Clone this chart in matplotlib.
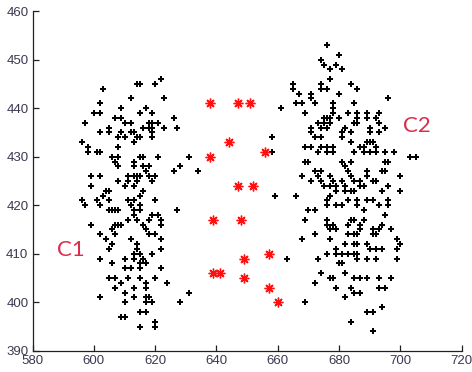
import matplotlib
matplotlib.use("Agg")
import matplotlib.pyplot as plt

# ---- data ----
c1_points = [
    (622,446),(614,445),(615,445),(620,445),(603,444),(612,442),(623,442),(602,441),
    (609,440),(617,440),(600,439),(602,439),(615,439),(619,439),(607,438),(609,438),
    (626,438),(597,437),(610,437),(612,437),(618,437),(619,437),(621,437),(605,436),
    (616,436),(618,436),(619,436),(623,436),(627,436),(602,435),(605,435),(609,435),
    (612,435),(613,435),(619,435),(608,434),(610,434),(614,434),(615,434),(619,434),
    (596,433),(613,433),(598,432),(608,432),(598,431),(601,431),(602,431),(606,430),
    (608,430),(615,430),(616,430),(621,430),(631,430),
    (607,429),(613,429),
    (608,428),(613,428),(616,428),(618,428),(628,428),
    (617,427),(626,427),(634,427),
    (599,426),(602,426),(611,426),(613,426),(614,426),(615,426),(618,426),(620,426),
    (608,425),(611,425),(614,425),(619,425),
    (599,424),(610,424),(613,424),
    (604,423),(605,423),(616,423),
    (603,422),(615,422),
    (596,421),(601,421),(605,421),(611,421),(613,421),(620,421),
    (597,420),(602,420),(612,420),(615,420),
    (605,419),(606,419),(607,419),(608,419),(613,419),(615,419),(627,419),
    (613,418),(619,418),(621,418),
    (611,417),(614,417),(618,417),(622,417),
    (599,416),(607,416),(608,416),(609,416),(616,416),(622,416),
    (606,415),(617,415),
    (602,414),(607,414),(618,414),(620,414),
    (604,413),(612,413),(622,413),
    (606,412),(614,412),
    (605,411),(614,411),(622,411),
    (613,410),(615,410),(619,410),
    (602,409),(610,409),(613,409),(616,409),
    (606,408),(615,408),(617,408),
    (610,407),(612,407),(615,407),(622,407),
    (605,405),(607,405),(611,405),(615,405),(620,405),
    (609,404),(617,404),(624,404),
    (607,403),(613,403),(617,403),
    (610,402),(631,402),
    (602,401),(613,401),(617,401),(618,401),
    (610,400),(617,400),(619,400),(628,400),
    (615,398),(617,398),
    (609,397),(610,397),
    (620,396),
    (615,395),(620,395),
]

c2_points = [
    (676,453),(680,451),(674,450),(675,449),(679,449),(677,448),(681,448),(677,446),
    (665,445),(674,445),(684,445),(665,444),(674,444),(676,444),(686,444),
    (667,443),(671,443),(680,443),(671,442),(696,442),
    (666,441),(668,441),(672,441),(678,441),(685,441),
    (661,440),(678,440),
    (669,439),(678,439),(683,439),(686,439),(689,439),(693,439),
    (675,438),(676,438),(677,438),(680,438),(686,438),(689,438),(692,438),
    (673,437),(675,437),(677,437),(685,437),(686,437),(693,437),
    (671,436),(674,436),(676,436),(682,436),(690,436),(695,436),
    (671,435),(681,435),(684,435),(690,435),(693,435),
    (658,434),(672,434),(674,434),(681,434),
    (684,433),(689,433),(690,433),(691,433),
    (669,432),(671,432),(674,432),(676,432),(678,432),(687,432),(688,432),(692,432),
    (658,431),(673,431),(676,431),(678,431),(685,431),(688,431),(690,431),(692,431),
    (695,431),(698,431),
    (703,430),(705,430),
    (669,429),(670,429),(681,429),(684,429),(695,429),(696,429),
    (682,428),
    (672,427),(674,427),(683,427),(689,427),(694,427),(695,427),
    (668,426),(673,426),(677,426),(684,426),(689,426),(700,426),
    (671,425),(674,425),(678,425),(681,425),(685,425),(687,425),(691,425),(692,425),
    (675,424),(677,424),(679,424),(682,424),(687,424),(688,424),(696,424),
    (679,423),(682,423),(684,423),(685,423),(694,423),(700,423),
    (659,422),(666,422),(677,422),
    (676,421),(683,421),(686,421),(689,421),(691,421),(696,421),
    (676,420),(679,420),(681,420),(686,420),(693,420),(696,420),
    (670,419),(672,419),(688,419),
    (695,418),
    (669,417),(676,417),(684,417),(685,417),(688,417),
    (676,416),(678,416),(683,416),(687,416),(694,416),
    (677,415),(679,415),(687,415),(691,415),(693,415),(697,415),
    (672,414),(683,414),(685,414),(686,414),(691,414),(692,414),
    (668,413),(677,413),(699,413),
    (682,412),(685,412),(686,412),(689,412),(700,412),
    (679,411),(690,411),(692,411),(694,411),(699,411),
    (676,410),(679,410),(681,410),(683,410),(685,410),(686,410),
    (663,409),(673,409),(686,409),(689,409),(692,409),(699,409),
    (680,408),(681,408),
    (674,406),(682,406),
    (677,405),(678,405),(685,405),(687,405),(689,405),(693,405),(697,405),
    (672,404),
    (679,403),(684,403),(693,403),(695,403),
    (685,402),(687,402),
    (682,401),
    (669,400),
    (694,399),
    (689,398),(691,398),
    (684,396),
    (691,394),
]

red_x = [638, 647, 651, 644, 656, 638, 647, 652, 639, 648, 657, 649, 639, 641, 649, 657, 660]
red_y = [441, 441, 441, 433, 431, 430, 424, 424, 417, 417, 410, 409, 406, 406, 405, 403, 400]

x_ticks = [580, 600, 620, 640, 660, 680, 700, 720]
y_ticks = [390, 400, 410, 420, 430, 440, 450, 460]
labels = ["C1", "C2"]
label_pos = [(588.0, 410.8), (701.0, 436.3)]

# ---- figure ----
fig = plt.figure(figsize=(4.72, 3.72), dpi=100)
ax = fig.add_axes([0.069, 0.057, 0.909, 0.913])

c1x = [p[0] for p in c1_points]; c1y = [p[1] for p in c1_points]
c2x = [p[0] for p in c2_points]; c2y = [p[1] for p in c2_points]
for xs, ys in ((c1x, c1y), (c2x, c2y)):
    ax.plot(xs, ys, linestyle="none", marker="P", markersize=4.2,
            color="black", markeredgewidth=0)
ax.plot(red_x, red_y, linestyle="none", marker=(8, 2, 0), markersize=7,
        color="#ff1010", markeredgewidth=1.0)

for t, (tx, ty) in zip(labels, label_pos):
    ax.text(tx, ty, t, color="#dc2d4b", fontsize=16, family="Lato",
            ha="left", va="center")

ax.set_xlim(580, 720)
ax.set_ylim(390, 460)
ax.set_xticks(x_ticks)
ax.set_yticks(y_ticks)
for s in ("top", "right"):
    ax.spines[s].set_visible(False)
for s in ("left", "bottom"):
    ax.spines[s].set_linewidth(0.9)
    ax.spines[s].set_color("#202020")
ax.tick_params(direction="in", length=4, width=0.9, colors="#202020",
               labelsize=9.5, labelcolor="#3a3a52", pad=3)
for lab in ax.get_xticklabels() + ax.get_yticklabels():
    lab.set_family("Liberation Sans")
fig.savefig("out.png", dpi=100)
